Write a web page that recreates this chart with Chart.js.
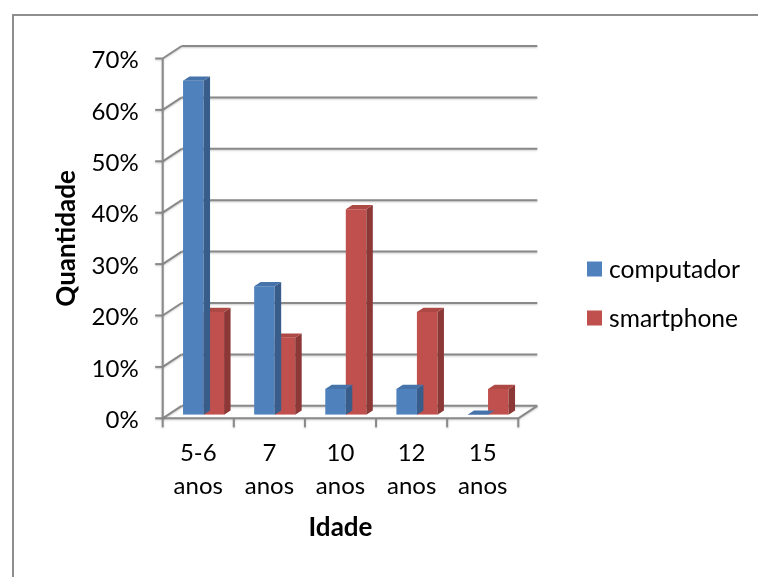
<!DOCTYPE html>
<html>
<head>
<meta charset="utf-8">
<script src="https://cdn.jsdelivr.net/npm/chart.js@4.4.1/dist/chart.umd.min.js"></script>
<style>
  html, body { margin: 0; padding: 0; background: #ffffff; }
  #wrap { position: relative; width: 758px; height: 577px; overflow: hidden; }
  canvas { display: block; }
</style>
</head>
<body>
<div id="wrap"><canvas id="chart" width="758" height="577"></canvas></div>
<script>
// Categories (age groups), two lines per label
const categories = [['5-6', 'anos'], ['7', 'anos'], ['10', 'anos'], ['12', 'anos'], ['15', 'anos']];
// Share of children using each device, in percent
const computador = [65, 25, 5, 5, 0];
const smartphone = [20, 15, 40, 20, 5];
// Value axis ticks
const yTickValues = [0, 10, 20, 30, 40, 50, 60, 70];
const yTickLabels = ['0%', '10%', '20%', '30%', '40%', '50%', '60%', '70%'];

const FONT = "Lato, Carlito, Calibri, 'Noto Sans', sans-serif";

// Oblique projection of the 3D box
const WALL = { dx: 19, dy: -12.5 };   // front plane -> back wall
const ROW = { dx: 5.3, dy: -3.5 };    // front plane -> bar row
const BAR = { dx: 6.5, dy: -4.3 };    // bar depth

const palette = {
  computador: { front: '#4F81BD', top: '#4673AA', side: '#385D8A' },
  smartphone: { front: '#C0504D', top: '#AE4845', side: '#8C3836' }
};

const gridColor = '#898989';

function line(ctx, x1, y1, x2, y2) {
  ctx.beginPath();
  ctx.moveTo(x1, y1);
  ctx.lineTo(x2, y2);
  ctx.stroke();
}

function poly(ctx, pts, color) {
  ctx.beginPath();
  ctx.moveTo(pts[0][0], pts[0][1]);
  for (let i = 1; i < pts.length; i++) ctx.lineTo(pts[i][0], pts[i][1]);
  ctx.closePath();
  ctx.fillStyle = color;
  ctx.fill();
}

const box3d = {
  id: 'box3d',
  beforeDraw(chart) {
    const ctx = chart.ctx;
    ctx.save();
    ctx.strokeStyle = '#8e8e8e';
    ctx.lineWidth = 2;
    ctx.strokeRect(13, 15, 900, 800);
    ctx.restore();
  },
  beforeDatasetsDraw(chart) {
    const ctx = chart.ctx;
    const { left, right, top, bottom } = chart.chartArea;
    const y = chart.scales.y;
    ctx.save();
    ctx.strokeStyle = gridColor;
    ctx.lineWidth = 2;
    ctx.lineCap = 'butt';
    ctx.shadowColor = 'rgba(0,0,0,0.2)';
    ctx.shadowBlur = 2;
    ctx.shadowOffsetY = 1;
    // back wall gridlines and left wall diagonals
    yTickValues.forEach(v => {
      const py = y.getPixelForValue(v);
      line(ctx, left + WALL.dx, py + WALL.dy, right + WALL.dx, py + WALL.dy);
      line(ctx, left, py, left + WALL.dx, py + WALL.dy);
      // tick mark on the front axis
      line(ctx, left - 7.5, py, left, py);
    });
    // front vertical axis
    line(ctx, left, top, left, bottom);
    // floor edges
    line(ctx, left, bottom, right, bottom);
    line(ctx, right, bottom, right + WALL.dx, bottom + WALL.dy);
    // category tick marks
    const n = categories.length;
    for (let i = 0; i <= n; i++) {
      const px = left + (right - left) * i / n;
      line(ctx, px, bottom, px, bottom + 9);
    }
    ctx.restore();
    // bars are drawn in the bar row plane
    ctx.save();
    ctx.translate(ROW.dx, ROW.dy);
  },
  afterDatasetDraw(chart, args) {
    const ctx = chart.ctx;
    const ds = chart.data.datasets[args.index];
    const col = palette[ds.label];
    args.meta.data.forEach(bar => {
      const p = bar.getProps(['x', 'y', 'base', 'width'], true);
      const l = p.x - p.width / 2, r = p.x + p.width / 2;
      const t = Math.min(p.y, p.base), b = Math.max(p.y, p.base);
      poly(ctx, [[r, t], [r + BAR.dx, t + BAR.dy], [r + BAR.dx, b + BAR.dy], [r, b]], col.side);
      poly(ctx, [[l, t], [l + BAR.dx, t + BAR.dy], [r + BAR.dx, t + BAR.dy], [r, t]], col.top);
    });
  },
  afterDatasetsDraw(chart) {
    chart.ctx.restore();
  },
  afterDraw(chart) {
    // legend
    const ctx = chart.ctx;
    ctx.save();
    ctx.font = '24.6px ' + FONT;
    ctx.textBaseline = 'middle';
    ctx.textAlign = 'left';
    const rows = [269, 318];
    chart.data.datasets.forEach((ds, i) => {
      const cy = rows[i];
      ctx.fillStyle = ds.backgroundColor;
      ctx.fillRect(587, cy - 7.5, 15, 15);
      ctx.fillStyle = '#000';
      ctx.fillText(ds.label, 609, cy + 1);
    });
    ctx.restore();
  }
};

Chart.defaults.color = '#000';
Chart.defaults.font.family = FONT;

new Chart(document.getElementById('chart'), {
  type: 'bar',
  data: {
    labels: categories,
    datasets: [
      { label: 'computador', data: computador, backgroundColor: palette.computador.front, borderWidth: 0 },
      { label: 'smartphone', data: smartphone, backgroundColor: palette.smartphone.front, borderWidth: 0 }
    ]
  },
  options: {
    responsive: false,
    animation: false,
    devicePixelRatio: 1,
    datasets: { bar: { categoryPercentage: 0.577, barPercentage: 1.0 } },
    layout: { padding: { top: 58.5, right: 239.7, bottom: 0, left: 0 } },
    plugins: {
      legend: { display: false },
      tooltip: { enabled: false }
    },
    scales: {
      x: {
        grid: { display: false, drawTicks: false },
        border: { display: false },
        ticks: {
          font: { size: 24, lineHeight: 1.404 },
          padding: 17.8,
          maxRotation: 0,
          autoSkip: false
        },
        title: {
          display: true,
          text: 'Idade',
          font: { size: 26, weight: 'bold', lineHeight: 1.2 },
          padding: { top: 0, bottom: 33.4 }
        },
        afterFit(s) { s.height = 158.7; }
      },
      y: {
        min: 0,
        max: 70,
        grid: { display: false, drawTicks: false },
        border: { display: false },
        ticks: {
          stepSize: 10,
          font: { size: 24 },
          padding: 24,
          labelOffset: 2,
          callback: v => yTickLabels[yTickValues.indexOf(v)]
        },
        title: {
          display: true,
          text: 'Quantidade',
          font: { size: 26, weight: 'bold', lineHeight: 1.2 },
          padding: { top: 51.4, bottom: 0 }
        },
        afterFit(s) { s.width = 162.7; }
      }
    }
  },
  plugins: [box3d]
});
</script>
</body>
</html>
